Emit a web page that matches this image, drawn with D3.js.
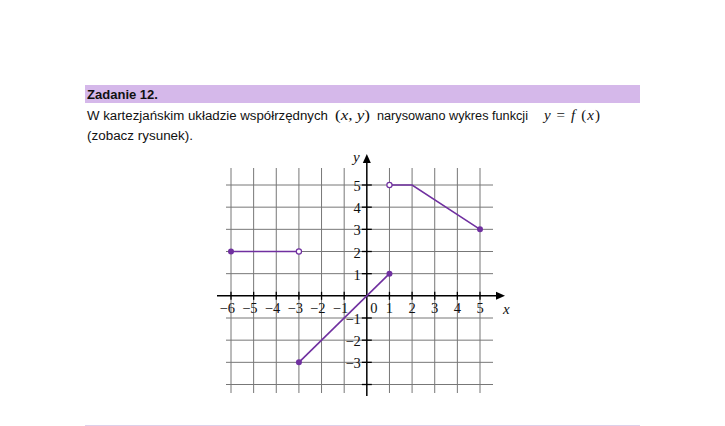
<!DOCTYPE html>
<html><head><meta charset="utf-8">
<script src="https://cdn.jsdelivr.net/npm/d3@7"></script>
<style>html,body{margin:0;padding:0;background:#fff;}</style>
</head><body>
<script>
// Data
const xTicks = [-6,-5,-4,-3,-2,-1,0,1,2,3,4,5];
const yTicks = [-4,-3,-2,-1,0,1,2,3,4,5];
const seg1 = [[-6,2],[-3,2]];
const seg2 = [[-3,-3],[1,1]];
const seg3 = [[1,5],[2,5],[5,3]];
const closedPoints = [[-6,2],[-3,-3],[1,1],[5,3]];
const openPoints = [[-3,2],[1,5]];
const xLabels = [-6,-5,-4,-3,-2,-1,0,1,2,3,4,5];
const yLabels = [-3,-2,-1,1,2,3,4,5];

const W=725,H=426;
const svg=d3.select("body").append("svg").attr("width",W).attr("height",H);
const purple="#7030a0";

// header
svg.append("rect").attr("x",85).attr("y",85).attr("width",555).attr("height",18).attr("fill","#d5b8ea");
svg.append("text").attr("x",87).attr("y",99).attr("font-family","Liberation Sans, Arial").attr("font-weight","bold").attr("font-size",12.5).attr("fill","#111")
  .attr("textLength",71).attr("lengthAdjust","spacingAndGlyphs").text("Zadanie 12.");
const sans="Liberation Sans, Arial";
function t(x,y,str,opt={}){const e=svg.append("text").attr("x",x).attr("y",y).attr("font-family",opt.ff||sans).attr("font-size",opt.fs||12.5).attr("fill","#111").text(str);
 if(opt.len){e.attr("textLength",opt.len).attr("lengthAdjust","spacingAndGlyphs");} return e;}
t(87,120,"W kartezjańskim układzie współrzędnych",{len:241});
const m1=svg.append("text").attr("x",335).attr("y",120).attr("font-family","Liberation Serif, DejaVu Serif").attr("font-size",15).attr("fill","#111")
  .attr("textLength",35).attr("lengthAdjust","spacingAndGlyphs");
m1.append("tspan").text("(");m1.append("tspan").attr("font-style","italic").text("x");m1.append("tspan").text(", ");m1.append("tspan").attr("font-style","italic").text("y");m1.append("tspan").text(")");
t(377,120,"narysowano wykres funkcji",{len:151});
const m2=svg.append("text").attr("x",544).attr("y",120).attr("font-family","Liberation Serif, DejaVu Serif").attr("font-size",15).attr("fill","#111")
  .attr("textLength",56).attr("lengthAdjust","spacing");
m2.append("tspan").attr("font-style","italic").text("y");m2.append("tspan").text(" = ");m2.append("tspan").attr("font-style","italic").text("f");m2.append("tspan").text(" (");m2.append("tspan").attr("font-style","italic").text("x");m2.append("tspan").text(")");
t(87,140,"(zobacz rysunek).",{len:106});

// scales
const x=d3.scaleLinear().domain([-6,5]).range([231,480]);
const y=d3.scaleLinear().domain([-4,5]).range([384.5,185]);

const g=svg.append("g");
// grid
g.selectAll("line.v").data(xTicks.filter(d=>d!==0)).join("line").attr("x1",d=>x(d)).attr("x2",d=>x(d)).attr("y1",168).attr("y2",393).attr("stroke","#777").attr("stroke-width",1);
g.selectAll("line.h").data(yTicks.filter(d=>d!==0)).join("line").attr("y1",d=>y(d)).attr("y2",d=>y(d)).attr("x1",226).attr("x2",493).attr("stroke","#777").attr("stroke-width",1);

// axes
const x0=x(0), y0=y(0);
g.append("line").attr("x1",217).attr("x2",498).attr("y1",y0).attr("y2",y0).attr("stroke","#000").attr("stroke-width",1.5);
g.append("path").attr("d",`M${505},${y0}L${496},${y0-4}L${496},${y0+4}Z`).attr("fill","#000");
g.append("line").attr("x1",x0).attr("x2",x0).attr("y1",396).attr("y2",161).attr("stroke","#000").attr("stroke-width",1.5);
g.append("path").attr("d",`M${x0},${154}L${x0-4},${163}L${x0+4},${163}Z`).attr("fill","#000");
// ticks
g.selectAll("line.xt").data(xTicks.filter(d=>d!==0)).join("line").attr("x1",d=>x(d)).attr("x2",d=>x(d)).attr("y1",y0-4).attr("y2",y0+4).attr("stroke","#000").attr("stroke-width",1.3);
g.selectAll("line.yt").data(yTicks.filter(d=>d!==0)).join("line").attr("y1",d=>y(d)).attr("y2",d=>y(d)).attr("x1",x0-5).attr("x2",x0+5).attr("stroke","#000").attr("stroke-width",1.3);

// labels
const lf="Liberation Serif, DejaVu Serif";
g.selectAll("text.xl").data(xLabels).join("text").attr("font-family",lf).attr("font-size",14.5).attr("fill","#111")
 .attr("x",d=>d<0?x(d)+4:(d===0?x(d)+7:x(d))).attr("y",y0+17).attr("text-anchor",d=>d<0?"end":"middle").text(d=>d<0?"\u2212"+(-d):d);
g.selectAll("text.yl").data(yLabels).join("text").attr("font-family",lf).attr("font-size",14.5).attr("fill","#111")
 .attr("x",x0-6).attr("y",d=>y(d)+6).attr("text-anchor","end").text(d=>d<0?"\u2212"+(-d):d);
g.append("text").attr("x",503).attr("y",y0+18).attr("font-family",lf).attr("font-style","italic").attr("font-size",15).attr("fill","#111").text("x");
g.append("text").attr("x",353).attr("y",162).attr("font-family",lf).attr("font-style","italic").attr("font-size",15).attr("fill","#111").text("y");

// function graph
const line=d3.line().x(d=>x(d[0])).y(d=>y(d[1]));
[seg1,seg2,seg3].forEach(s=>g.append("path").attr("d",line(s)).attr("fill","none").attr("stroke",purple).attr("stroke-width",1.6));
g.selectAll("circle.c").data(closedPoints).join("circle").attr("cx",d=>x(d[0])).attr("cy",d=>y(d[1])).attr("r",3).attr("fill",purple);
g.selectAll("circle.o").data(openPoints).join("circle").attr("cx",d=>x(d[0])).attr("cy",d=>y(d[1])).attr("r",2.6).attr("fill","#fff").attr("stroke",purple).attr("stroke-width",1.2);

// bottom line
svg.append("line").attr("x1",85).attr("x2",640).attr("y1",425.5).attr("y2",425.5).attr("stroke","#ddd0ea").attr("stroke-width",1);
</script>
</body></html>
